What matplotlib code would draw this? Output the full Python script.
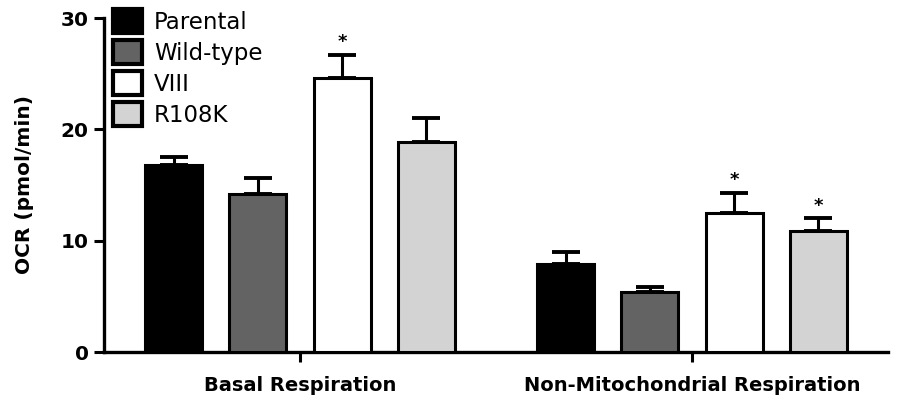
import matplotlib
matplotlib.use("Agg")
import matplotlib.pyplot as plt
import numpy as np

plt.rcParams['font.family'] = ['DejaVu Sans']

categories = ["Basal Respiration", "Non-Mitochondrial Respiration"]
series = ["Parental", "Wild-type", "VIII", "R108K"]
means = {
    "Parental": [16.8, 7.9],
    "Wild-type": [14.2, 5.35],
    "VIII": [24.6, 12.5],
    "R108K": [18.9, 10.9],
}
errors = {
    "Parental": [0.7, 1.1],
    "Wild-type": [1.4, 0.5],
    "VIII": [2.1, 1.8],
    "R108K": [2.1, 1.1],
}
significant = {
    "Parental": [False, False],
    "Wild-type": [False, False],
    "VIII": [True, True],
    "R108K": [False, True],
}
colors = {"Parental": "#000000", "Wild-type": "#636363", "VIII": "#ffffff", "R108K": "#d3d3d3"}
yticks = [0, 10, 20, 30]

fig = plt.figure(figsize=(9.01, 3.96), dpi=100)
ax = fig.add_axes([104/901, 1-352/396, (888-104)/901, (352-18)/396])

x = np.arange(len(categories))
step = 0.215
width = 0.145
handles = []
for i, s in enumerate(series):
    pos = x + (i - 1.5) * step
    vals = np.array(means[s])
    errs = np.array(errors[s])
    b = ax.bar(pos, vals, width, color=colors[s], edgecolor="black", linewidth=2.2,
               label=s, zorder=3)
    handles.append(b)
    ax.errorbar(pos, vals, yerr=[np.zeros_like(errs), errs], fmt="none",
                ecolor="black", elinewidth=2.2, capsize=10, capthick=2.8, zorder=2)
    for p, v, e, sig in zip(pos, vals, errs, significant[s]):
        if sig:
            ax.text(p, v + e + 0.3, "*", ha="center", va="bottom",
                    fontsize=13, fontweight="bold")

ax.set_xlim(-0.5, 1.5)
ax.set_ylim(0, 30)
ax.set_yticks(yticks)
ax.set_yticklabels([str(t) for t in yticks], fontsize=14.5, fontweight="bold")
ax.set_xticks(x)
ax.set_xticklabels(categories, fontsize=14, fontweight="bold")
ax.tick_params(axis="both", direction="out", length=7, width=2.2)
ax.tick_params(axis="y", pad=4)
ax.tick_params(axis="x", pad=10)
for sp in ["top", "right"]:
    ax.spines[sp].set_visible(False)
for sp in ["left", "bottom"]:
    ax.spines[sp].set_linewidth(2.4)
ax.set_ylabel("OCR (pmol/min)", fontsize=14.5, fontweight="bold")
ax.yaxis.set_label_coords(-0.089, 0.5)

leg = fig.legend(handles=handles, labels=series, loc="upper left",
                 bbox_to_anchor=(113/901, 1-9/396), frameon=False,
                 fontsize=16.5, handlelength=1.25, handleheight=1.25,
                 labelspacing=0.27, handletextpad=0.55, borderpad=0, borderaxespad=0)
for h in leg.legend_handles:
    h.set_linewidth(3.0)

fig.savefig("out.png", dpi=100)
